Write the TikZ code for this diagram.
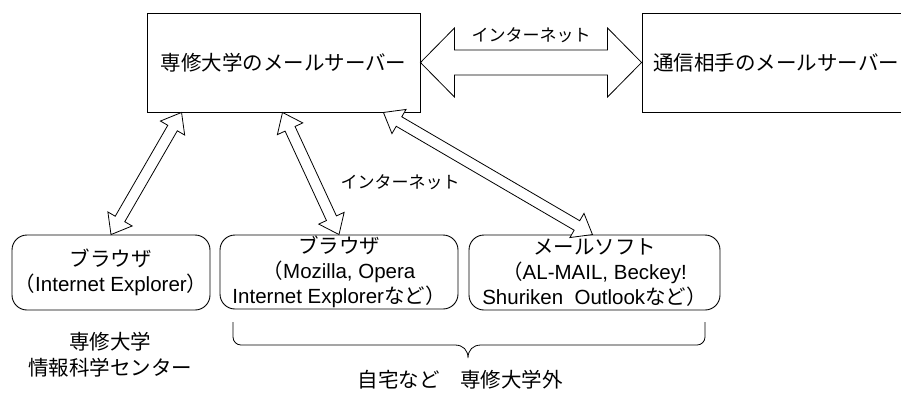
\documentclass[tikz,border=0pt]{standalone}
\usepackage{fontspec}
\setmainfont{Liberation Sans}
\newfontfamily\jp{Noto Sans CJK JP}
\usetikzlibrary{calc}
\newcommand\J[1]{{\jp #1}}
\newcommand\hollowdbl[5]{%
  \path let \p1=(#1), \p2=(#2), \n1={atan2(\y2-\y1,\x2-\x1)}, \n2={veclen(\x2-\x1,\y2-\y1)} in
    \pgfextra{\xdef\HAang{\n1}\xdef\HAlen{\n2}};
  \begin{scope}[shift={(#1)}, rotate=\HAang]
    \draw[arrowline] (0,0) -- (#5,#4) -- (#5,#3) -- (\HAlen-#5,#3) -- (\HAlen-#5,#4) -- (\HAlen,0)
      -- (\HAlen-#5,-#4) -- (\HAlen-#5,-#3) -- (#5,-#3) -- (#5,-#4) -- cycle;
  \end{scope}}
\tikzset{
  server/.style={draw, line width=0.9pt, minimum width=273pt, minimum height=99pt, inner sep=0pt,
    font=\fontsize{20.5}{25}\selectfont\jp},
  client/.style={draw, line width=0.9pt, rounded corners=15pt, inner sep=0pt, align=center,
    font=\fontsize{20.5}{25}\selectfont},
  label/.style={inner sep=0pt, align=center, font=\fontsize{20.5}{26}\selectfont\jp},
  netlabel/.style={inner sep=0pt, font=\fontsize{17}{20}\selectfont\jp},
  arrowline/.style={draw, line width=0.8pt, fill=white, line join=miter},
}
\begin{document}
\begin{tikzpicture}[x=1pt, y=1pt]
\useasboundingbox (0,0) rectangle (901,-392);
\clip (0,0) rectangle (901,-392);
\fill[white] (0,0) rectangle (901,-392);

% servers
\node[server] (srv) at (283.5,-62.5) {専修大学のメールサーバー};
\node[server, minimum width=273pt] (peer) at (778.5,-62.5) {};
\node[inner sep=0pt, anchor=west, font=\fontsize{20.5}{25}\selectfont\jp] (peertext) at (653,-62.5) {通信相手のメールサーバー};

% clients
\node[client, minimum width=198pt, minimum height=75pt] (b1) at (111,-272.5)
  {\J{ブラウザ}\\\J{（}Internet Explorer\J{）}};
\node[client, minimum width=238pt, minimum height=74pt] (b2) at (339,-272)
  {\J{ブラウザ}\\\J{（}Mozilla, Opera\\Internet Explorer\J{など）}};
\node[client, minimum width=251pt, minimum height=75pt] (b3) at (594.5,-272.5)
  {\J{メールソフト}\\\J{（}AL-MAIL, Beckey!\\Shuriken\ \ Outlook\J{など）}};

% arrow end points
\coordinate (a1t) at ([xshift=35pt]srv.south west);
\coordinate (a1b) at (b1.north);
\coordinate (a2t) at ([xshift=-1pt]srv.south);
\coordinate (a2b) at (b2.north);
\coordinate (a3t) at ([xshift=-37pt]srv.south east);
\coordinate (a3b) at ([xshift=-2pt]b3.north);

% hollow double arrows
\hollowdbl{srv.east}{peer.west}{12.5}{34.5}{34}
\hollowdbl{a1t}{a1b}{5.5}{14}{18}
\hollowdbl{a2t}{a2b}{5.5}{14}{18}
\hollowdbl{a3t}{a3b}{5.5}{14}{18}

% labels
\node[netlabel] (net1) at (531,-35) {インターネット};
\node[netlabel] (net2) at (400,-182) {インターネット};
\node[label] (ccenter) at (110,-355) {専修大学\\情報科学センター};
\node[label] (outside) at (460,-380) {自宅など　専修大学外};

% brace
\draw[line width=0.8pt] (233,-322) -- (233,-337) arc[start angle=180, end angle=270, radius=8]
  -- (455,-345) .. controls (463,-345) and (468,-350) .. (468,-358)
  .. controls (468,-350) and (473,-345) .. (481,-345)
  -- (697,-345) arc[start angle=270, end angle=360, radius=8] -- (705,-322);
\end{tikzpicture}
\end{document}
